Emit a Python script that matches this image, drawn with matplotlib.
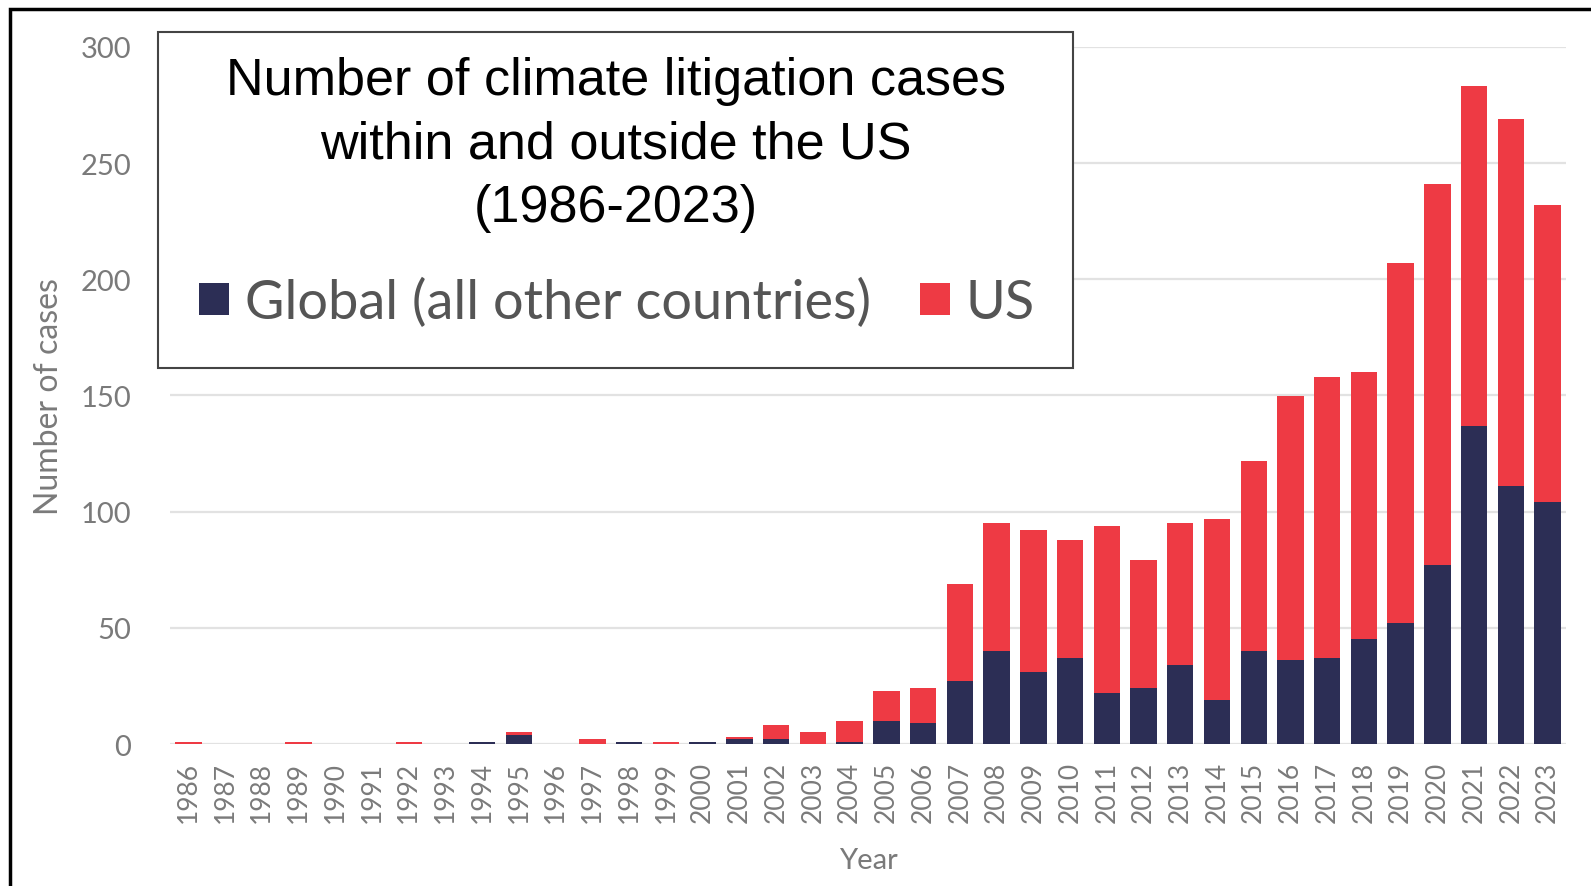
import numpy as np
import matplotlib.pyplot as plt
import matplotlib.patches as patches

years = list(range(1986, 2024))
global_cases = [0, 0, 0, 0, 0, 0, 0, 0, 1, 4, 0, 0, 1, 0, 1, 2, 2, 0, 1,
                10, 9, 27, 40, 31, 37, 22, 24, 34, 19, 40, 36, 37, 45, 52,
                77, 137, 111, 104]
us_cases = [1, 0, 0, 1, 0, 0, 1, 0, 0, 1, 0, 2, 0, 1, 0, 1, 6, 5, 9,
            13, 15, 42, 55, 61, 51, 72, 55, 61, 78, 82, 114, 121, 115, 155,
            164, 146, 158, 128]
y_ticks = [0, 50, 100, 150, 200, 250, 300]

NAVY = '#2c2e55'
RED = '#ee3a44'
GRAY = '#7a7a7a'
TICK_FONT = 'Lato'

W, H = 1591, 887
fig = plt.figure(figsize=(W / 100, H / 100), dpi=100)
ax = fig.add_axes([170 / W, 1 - 745 / H, (1566 - 170) / W, (745 - 48) / H])

x = np.arange(len(years))
ax.bar(x, global_cases, width=0.72, color=NAVY, zorder=3, label='Global (all other countries)')
ax.bar(x, us_cases, width=0.72, bottom=global_cases, color=RED, zorder=3, label='US')

ax.set_xlim(-0.5, len(years) - 0.5)
ax.set_ylim(0, 300)
ax.set_yticks(y_ticks)
ax.set_xticks(x)
ax.set_xticklabels([str(y) for y in years], rotation=90, fontsize=19, color=GRAY, family=TICK_FONT)
ax.set_yticklabels([str(t) for t in y_ticks], fontsize=21, color=GRAY, family=TICK_FONT)
ax.tick_params(axis='both', length=0)
ax.tick_params(axis='y', pad=28)
ax.tick_params(axis='x', pad=12)
ax.grid(axis='y', color='#e2e2e2', linewidth=1.6, zorder=0)
for s in ax.spines.values():
    s.set_visible(False)

ax.set_ylabel('Number of cases', fontsize=23, color=GRAY, family=TICK_FONT, labelpad=12)
ax.set_xlabel('Year', fontsize=21, color=GRAY, family=TICK_FONT, labelpad=18)

# title box on top of the plot
box = patches.Rectangle((158 / W, 1 - 369 / H), (1073 - 158) / W, (369 - 33) / H,
                        transform=fig.transFigure, facecolor='white', edgecolor='#444444',
                        linewidth=1.5, zorder=5)
fig.patches.append(box)
fig.text(616 / W, 1 - 145 / H, 'Number of climate litigation cases\nwithin and outside the US\n(1986-2023)',
         ha='center', va='center', fontsize=37.5, family='Liberation Sans', linespacing=1.37, zorder=6)

leg = fig.legend(loc='center', bbox_to_anchor=(617 / W, 1 - 303 / H), ncol=2, frameon=False,
                 handlelength=0.55, handleheight=0.55, handletextpad=0.3,
                 columnspacing=0.9, prop={'family': TICK_FONT, 'size': 39})
for t in leg.get_texts():
    t.set_color('#555555')
leg.set_zorder(7)

# outer black frame
frame = patches.Rectangle((10 / W, -0.05), 1.2, 1 - 10 / H + 0.05, transform=fig.transFigure,
                          facecolor='none', edgecolor='black', linewidth=2.5, zorder=8)
fig.patches.append(frame)

fig.savefig('out.png', dpi=100)
